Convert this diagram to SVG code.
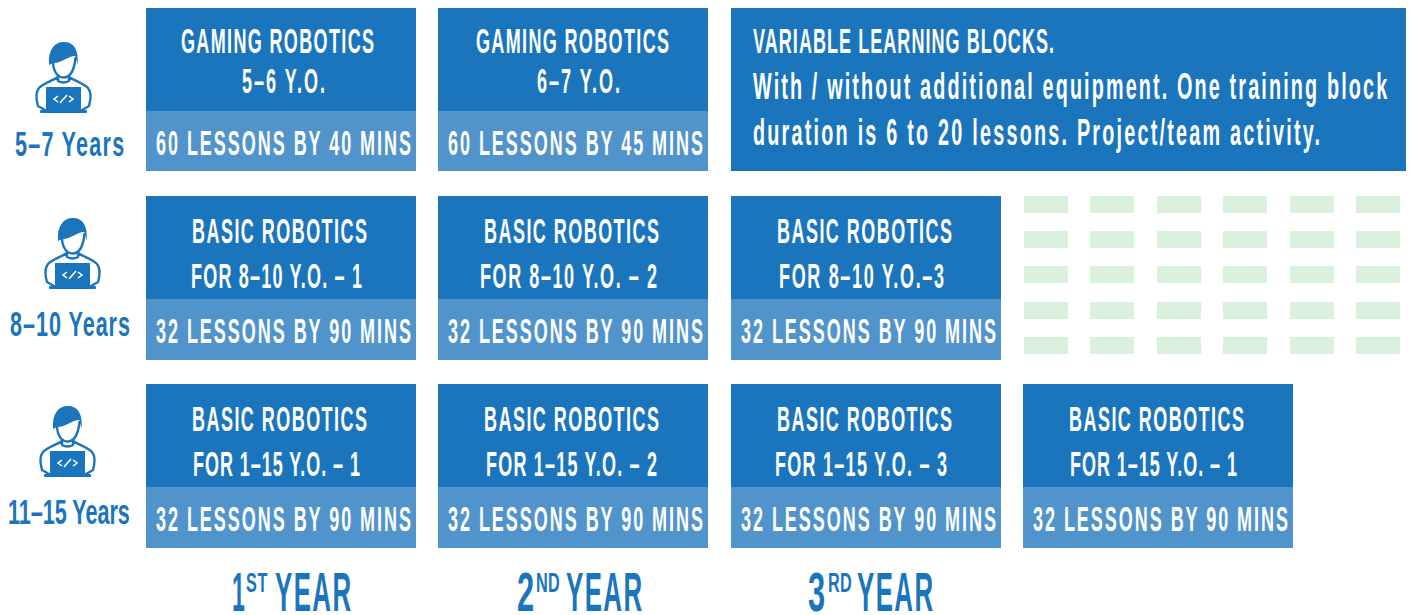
<svg xmlns="http://www.w3.org/2000/svg" width="1410" height="615" viewBox="0 0 1410 615">
<style>
text{font-family:"Liberation Sans",Arial,sans-serif;font-size:36px;font-weight:700;fill:#fff}
.d{fill:#1b75bc}.l{fill:#5194cb}.g{fill:#d9f0dd}
text.b{fill:#1b75bc}
text.y{font-size:55px}
text.s{font-size:28px}
.o{fill:none;stroke:#1b75bc;stroke-width:2.4;stroke-linecap:round;stroke-linejoin:round}
</style>
<defs>
<g id="person">
<path class="d" d="M29 35C28 20 34 12 44 12C54 12 59 20 57.500 35L55.500 26C48 26 42 33 33 33Z"/>
<path class="o" d="M33 31C33 42 38 47.500 43.500 47.500C49 47.500 54 42 55.500 28"/>
<path class="o" d="M25 80L18 76C16 69 15 63 19 58C24 53 32 51 38 47M62 80L69 76C71 69 72 63 68 58C63 53 55 51 49 47M38 47L38 51Q43.500 54 49 51L49 47"/>
<rect class="d" x="26" y="57" width="35" height="24"/>
<rect class="d" x="20" y="80" width="47" height="3" rx="1"/>
<path d="M38 66L34 69L38 72M40 73L47 65M49 66L53 69L49 72" fill="none" stroke="#fff" stroke-width="1.500"/>
</g>
</defs>
<g id="connectors"/>
<g id="row1-label"><use href="#person" x="20" y="30"/><text class="b" transform="translate(15 155.500) scale(.6 1)" textLength="182">5–7 Years</text></g>
<g id="row2-label"><use href="#person" x="29" y="206"/><text class="b" transform="translate(10 335.500) scale(.6 1)" textLength="200">8–10 Years</text></g>
<g id="row3-label"><use href="#person" x="24" y="394"/><text class="b" transform="translate(8 523.500) scale(.6 1)" textLength="203">11–15 Years</text></g>

<g id="r1c1"><rect class="d" x="146" y="8" width="270" height="103"/><rect class="l" x="146" y="111" width="270" height="60"/>
<text transform="translate(181 52.500) scale(.5 1)" textLength="386">GAMING ROBOTICS</text><text transform="translate(242 92.500) scale(.5 1)" textLength="166">5–6 Y.O.</text><text transform="translate(156 154.500) scale(.5 1)" textLength="510">60 LESSONS BY 40 MINS</text></g>
<g id="r1c2"><rect class="d" x="438" y="8" width="270" height="103"/><rect class="l" x="438" y="111" width="270" height="60"/>
<text transform="translate(476 52.500) scale(.5 1)" textLength="386">GAMING ROBOTICS</text><text transform="translate(537 92.500) scale(.5 1)" textLength="166">6–7 Y.O.</text><text transform="translate(448 154.500) scale(.5 1)" textLength="510">60 LESSONS BY 45 MINS</text></g>
<g id="r1c3"><rect class="d" x="731" y="8" width="675" height="163"/>
<text transform="translate(753 52.500) scale(.5 1)" textLength="602">VARIABLE LEARNING BLOCKS.</text><text transform="translate(753 98.500) scale(.55 1)" textLength="1153">With / without additional equipment. One training block</text><text transform="translate(753 144.500) scale(.55 1)" textLength="1031">duration is 6 to 20 lessons. Project/team activity.</text></g>

<g id="r2c1"><rect class="d" x="146" y="196" width="270" height="103"/><rect class="l" x="146" y="299" width="270" height="61"/>
<text transform="translate(192 242.500) scale(.5 1)" textLength="350">BASIC ROBOTICS</text><text transform="translate(191 287.500) scale(.5 1)" textLength="342">FOR 8–10 Y.O. – 1</text><text transform="translate(156 342.500) scale(.5 1)" textLength="510">32 LESSONS BY 90 MINS</text></g>
<g id="r2c2"><rect class="d" x="438" y="196" width="270" height="103"/><rect class="l" x="438" y="299" width="270" height="61"/>
<text transform="translate(484 242.500) scale(.5 1)" textLength="350">BASIC ROBOTICS</text><text transform="translate(480 287.500) scale(.5 1)" textLength="354">FOR 8–10 Y.O. – 2</text><text transform="translate(448 342.500) scale(.5 1)" textLength="510">32 LESSONS BY 90 MINS</text></g>
<g id="r2c3"><rect class="d" x="731" y="196" width="270" height="103"/><rect class="l" x="731" y="299" width="270" height="61"/>
<text transform="translate(777 242.500) scale(.5 1)" textLength="350">BASIC ROBOTICS</text><text transform="translate(779 287.500) scale(.5 1)" textLength="330">FOR 8–10 Y.O.–3</text><text transform="translate(741 342.500) scale(.5 1)" textLength="510">32 LESSONS BY 90 MINS</text></g>

<g id="r3c1"><rect class="d" x="146" y="384" width="270" height="103"/><rect class="l" x="146" y="487" width="270" height="61"/>
<text transform="translate(192 430.500) scale(.5 1)" textLength="350">BASIC ROBOTICS</text><text transform="translate(193 475.500) scale(.5 1)" textLength="334">FOR 1–15 Y.O. – 1</text><text transform="translate(156 530.500) scale(.5 1)" textLength="510">32 LESSONS BY 90 MINS</text></g>
<g id="r3c2"><rect class="d" x="438" y="384" width="270" height="103"/><rect class="l" x="438" y="487" width="270" height="61"/>
<text transform="translate(484 430.500) scale(.5 1)" textLength="350">BASIC ROBOTICS</text><text transform="translate(486 475.500) scale(.5 1)" textLength="342">FOR 1–15 Y.O. – 2</text><text transform="translate(448 530.500) scale(.5 1)" textLength="510">32 LESSONS BY 90 MINS</text></g>
<g id="r3c3"><rect class="d" x="731" y="384" width="270" height="103"/><rect class="l" x="731" y="487" width="270" height="61"/>
<text transform="translate(777 430.500) scale(.5 1)" textLength="350">BASIC ROBOTICS</text><text transform="translate(775 475.500) scale(.5 1)" textLength="344">FOR 1–15 Y.O. – 3</text><text transform="translate(741 530.500) scale(.5 1)" textLength="510">32 LESSONS BY 90 MINS</text></g>
<g id="r3c4"><rect class="d" x="1023" y="384" width="270" height="103"/><rect class="l" x="1023" y="487" width="270" height="61"/>
<text transform="translate(1069 430.500) scale(.5 1)" textLength="350">BASIC ROBOTICS</text><text transform="translate(1070 475.500) scale(.5 1)" textLength="334">FOR 1–15 Y.O. – 1</text><text transform="translate(1033 530.500) scale(.5 1)" textLength="510">32 LESSONS BY 90 MINS</text></g>

<g id="placeholder-blocks">
<rect class="g" x="1024" y="196" width="44" height="17"/><rect class="g" x="1090" y="196" width="44" height="17"/><rect class="g" x="1157" y="196" width="44" height="17"/><rect class="g" x="1223" y="196" width="44" height="17"/><rect class="g" x="1290" y="196" width="44" height="17"/><rect class="g" x="1356" y="196" width="44" height="17"/>
<rect class="g" x="1024" y="231" width="44" height="17"/><rect class="g" x="1090" y="231" width="44" height="17"/><rect class="g" x="1157" y="231" width="44" height="17"/><rect class="g" x="1223" y="231" width="44" height="17"/><rect class="g" x="1290" y="231" width="44" height="17"/><rect class="g" x="1356" y="231" width="44" height="17"/>
<rect class="g" x="1024" y="266" width="44" height="17"/><rect class="g" x="1090" y="266" width="44" height="17"/><rect class="g" x="1157" y="266" width="44" height="17"/><rect class="g" x="1223" y="266" width="44" height="17"/><rect class="g" x="1290" y="266" width="44" height="17"/><rect class="g" x="1356" y="266" width="44" height="17"/>
<rect class="g" x="1024" y="302" width="44" height="17"/><rect class="g" x="1090" y="302" width="44" height="17"/><rect class="g" x="1157" y="302" width="44" height="17"/><rect class="g" x="1223" y="302" width="44" height="17"/><rect class="g" x="1290" y="302" width="44" height="17"/><rect class="g" x="1356" y="302" width="44" height="17"/>
<rect class="g" x="1024" y="337" width="44" height="17"/><rect class="g" x="1090" y="337" width="44" height="17"/><rect class="g" x="1157" y="337" width="44" height="17"/><rect class="g" x="1223" y="337" width="44" height="17"/><rect class="g" x="1290" y="337" width="44" height="17"/><rect class="g" x="1356" y="337" width="44" height="17"/>
</g>

<g id="year1"><text class="b y" transform="translate(232 611) scale(.42 1)">1</text><text class="b s" transform="translate(246 592) scale(.58 1)" textLength="37">ST</text><text class="b y" transform="translate(275 611) scale(.47 1)" textLength="162">YEAR</text></g>
<g id="year2"><text class="b y" transform="translate(517 611) scale(.56 1)">2</text><text class="b s" transform="translate(536 592) scale(.58 1)" textLength="41">ND</text><text class="b y" transform="translate(566 611) scale(.47 1)" textLength="162">YEAR</text></g>
<g id="year3"><text class="b y" transform="translate(808 611) scale(.56 1)">3</text><text class="b s" transform="translate(828 592) scale(.58 1)" textLength="41">RD</text><text class="b y" transform="translate(857 611) scale(.47 1)" textLength="162">YEAR</text></g>
</svg>
